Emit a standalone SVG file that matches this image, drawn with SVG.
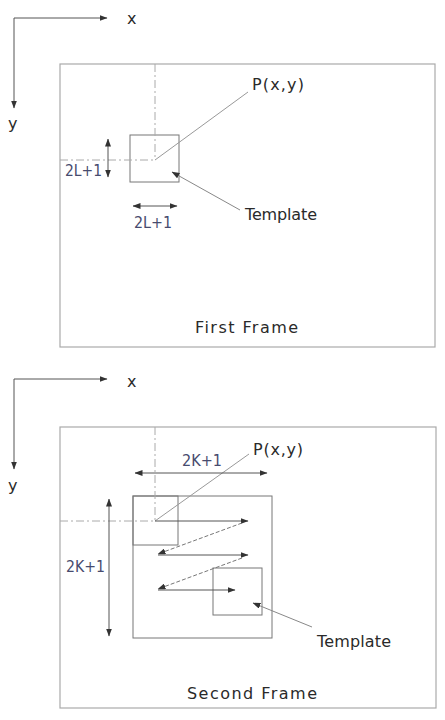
<svg xmlns="http://www.w3.org/2000/svg" width="445" height="720" viewBox="0 0 445 720">
  <defs>
    <marker id="ah" viewBox="0 0 8 6" refX="7.5" refY="3" markerWidth="8" markerHeight="6" markerUnits="userSpaceOnUse" orient="auto-start-reverse">
      <path d="M0,0 L8,3 L0,6 Z" fill="#333"/>
    </marker>
    <style>
      .frame { fill: #fff; stroke: #aaa; stroke-width: 1.2; }
      .box { fill: none; stroke: #777; stroke-width: 1; }
      .axis { fill: none; stroke: #555; stroke-width: 1; marker-end: url(#ah); }
      .dim { fill: none; stroke: #555; stroke-width: 1; marker-start: url(#ah); marker-end: url(#ah); }
      .arr { fill: none; stroke: #555; stroke-width: 1; marker-end: url(#ah); }
      .back { fill: none; stroke: #777; stroke-width: 1; stroke-dasharray: 4 2; marker-end: url(#ah); }
      .guide { fill: none; stroke: #aaa; stroke-width: 1; stroke-dasharray: 8 3 2 3; }
      .lead { fill: none; stroke: #999; stroke-width: 1; }
      .ptr { fill: none; stroke: #888; stroke-width: 1; marker-start: url(#ah); }
      .t { font-family: "DejaVu Sans", "Liberation Sans", sans-serif; font-size: 16px; fill: #2a2a2a; }
      .d { font-family: "DejaVu Sans", "Liberation Sans", sans-serif; font-size: 16px; fill: #474b6e; }
    </style>
  </defs>

  <!-- first frame -->
  <g id="axes1">
    <path class="axis" d="M14,18 H107"/>
    <path class="axis" d="M14,18 V108"/>
    <text class="t" x="127" y="24">x</text>
    <text class="t" x="8" y="129">y</text>
  </g>
  <g id="frame1">
    <rect class="frame" x="60" y="64" width="375" height="283"/>
    <text class="t" x="195" y="333" textLength="103" lengthAdjust="spacing">First Frame</text>
  </g>
  <g id="template1">
    <rect class="box" x="130" y="135" width="49" height="47"/>
    <text class="t" x="245" y="220" textLength="72" lengthAdjust="spacing">Template</text>
  </g>
  <g id="point1">
    <text class="t" x="252" y="90" textLength="52" lengthAdjust="spacing">P(x,y)</text>
  </g>
  <g id="dim1">
    <text class="d" x="65" y="176" textLength="37" lengthAdjust="spacingAndGlyphs">2L+1</text>
    <text class="d" x="134" y="228" textLength="38" lengthAdjust="spacingAndGlyphs">2L+1</text>
  </g>

  <!-- second frame -->
  <g id="axes2">
    <path class="axis" d="M14,379 H107"/>
    <path class="axis" d="M14,379 V469"/>
    <text class="t" x="127" y="387">x</text>
    <text class="t" x="8" y="491">y</text>
  </g>
  <g id="frame2">
    <rect class="frame" x="60" y="427" width="376" height="281"/>
    <text class="t" x="187" y="699" textLength="130" lengthAdjust="spacing">Second Frame</text>
  </g>
  <g id="search2">
    <rect class="box" x="133" y="496" width="139" height="142"/>
  </g>
  <g id="start2">
    <rect class="box" x="133" y="496" width="45" height="49"/>
  </g>
  <g id="template2">
    <rect class="box" x="213" y="568" width="49" height="47"/>
    <text class="t" x="317" y="647" textLength="74" lengthAdjust="spacing">Template</text>
  </g>
  <g id="point2">
    <text class="t" x="253" y="455" textLength="50" lengthAdjust="spacing">P(x,y)</text>
  </g>
  <g id="dim2">
    <text class="d" x="182" y="466" textLength="40" lengthAdjust="spacingAndGlyphs">2K+1</text>
    <text class="d" x="66" y="572" textLength="39" lengthAdjust="spacingAndGlyphs">2K+1</text>
  </g>

  <g id="connectors">
    <!-- first frame guides and leaders -->
    <path class="guide" d="M155,64 V160"/>
    <path class="guide" d="M60,160 H155"/>
    <path class="lead" d="M155,160 L248,92"/>
    <path class="dim" d="M108,139 V177"/>
    <path class="dim" d="M133,206 H177"/>
    <path class="ptr" d="M172,172 L240,210"/>

    <!-- second frame guides and leaders -->
    <path class="guide" d="M155,427 V521"/>
    <path class="guide" d="M60,521 H155"/>
    <path class="lead" d="M155,521 L249,454"/>
    <path class="dim" d="M135,473 H267"/>
    <path class="dim" d="M109,499 V636"/>

    <!-- raster scan of the search area -->
    <path class="arr" d="M155,521 H248"/>
    <path class="back" d="M242,523 L158,554"/>
    <path class="arr" d="M158,555 H248"/>
    <path class="back" d="M242,558 L158,589"/>
    <path class="arr" d="M158,590 H235"/>
    <path class="ptr" d="M253,603 L312,627"/>
  </g>
</svg>
